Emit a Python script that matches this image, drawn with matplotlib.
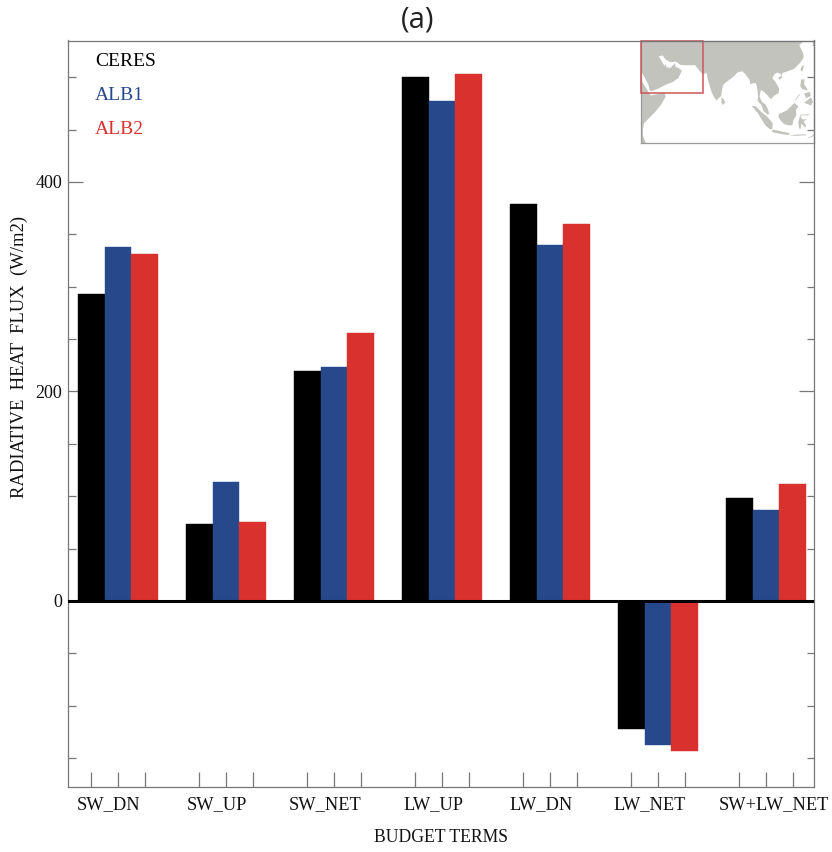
import numpy as np
import matplotlib
matplotlib.use("Agg")
import matplotlib.pyplot as plt
from matplotlib.patches import Polygon, Rectangle

# Values (W/m2)
terms = ["SW_DN", "SW_UP", "SW_NET", "LW_UP", "LW_DN", "LW_NET", "SW+LW_NET"]
ceres = [292.6, 73, 219.6, 500, 378.5, -122, 98]
alb1 = [337.5, 113.6, 223.4, 477, 340, -137.5, 87]
alb2 = [331, 75.4, 255.4, 503, 359.4, -143, 111.7]

series_names = ["CERES", "ALB1", "ALB2"]
colors = ["#000000", "#27498C", "#D9322E"]
grey = "#777777"

# Rough coastlines for the locator map (lon, lat)
asia = [(39, 37), (39, 22.5), (41, 19), (42.7, 16), (43.5, 12.8), (45, 12.8), (48, 14), (52, 16),
        (55, 17), (58, 19), (59.8, 22.5), (58.5, 23.7), (56.5, 24.5), (56.3, 26.2), (54, 24),
        (52, 24.2), (51.5, 25.8), (51, 24.8), (50, 26.5), (48, 29.5), (50, 30), (51.5, 28),
        (54, 26.7), (56.8, 27), (59, 25.4), (62, 25.2), (66.5, 25.3), (67.5, 24), (69, 22.3),
        (70.5, 20.8), (72.5, 21.5), (72.8, 19), (74, 15), (75, 12), (76.3, 9.5), (77.5, 8),
        (78.2, 9), (79.8, 10.3), (80.2, 13.5), (81, 16), (83, 17.5), (86.5, 20), (88, 21.7),
        (90.5, 22.3), (92, 21), (94.3, 18), (94.5, 16), (96, 16.5), (97.5, 16.5), (98.3, 13),
        (98.5, 10), (98.3, 8), (100.3, 5.8), (101.3, 3), (103.4, 1.3), (104.2, 1.5), (103.5, 4),
        (102.3, 6.2), (100.5, 7.5), (99.3, 10), (100, 13.3), (101, 12.7), (103, 11), (105, 8.7),
        (106.8, 10.5), (109, 11.7), (109.3, 14), (107.5, 17), (105.8, 19), (107, 21), (108.5, 21.7),
        (110, 21), (110.5, 20.3), (111, 21.5), (113.5, 22.3), (117, 23.5), (120, 26.5), (121.8, 29),
        (121.5, 31), (120.5, 33), (119.5, 35), (122, 37)]
africa = [(39, 18), (41, 15), (43, 12), (44, 10.5), (51, 12), (51.5, 10), (49.5, 6.5), (46.6, 3), (43, -0.5),
          (40.5, -3), (40, -6), (40, -9), (41.5, -12.5), (39, -12.5)]
korea = [(126.5, 37), (126.3, 34.5), (127, 34.5), (127, 37)]
sri_lanka = [(80, 9.7), (81.3, 8.5), (81.8, 7), (80.6, 6), (79.9, 7)]
sumatra = [(95.3, 5.6), (97.5, 5.2), (100.5, 2.3), (103.5, 0), (106, -3), (105.8, -5.8), (104.5, -5.8),
           (102.3, -4), (100.3, -1), (98.7, 1.7), (97, 3.5)]
java = [(105.2, -6.8), (106.5, -6), (110, -6.8), (114.5, -7.7), (114.4, -8.7), (110, -8.1), (106.5, -7.4)]
sundas = [(115, -8.7), (119, -8.4), (123, -8.3), (122.8, -8.8), (118, -9), (115, -8.9)]
timor = [(123.5, -10.3), (127, -8.4), (127, -9), (124, -10.3)]
borneo = [(109, 1.5), (111.3, 2.5), (113, 3.2), (115, 5), (117, 7), (119, 5.2), (117.8, 3.5), (118, 1),
          (116.5, -1.5), (116, -3.8), (114.5, -4), (111.7, -3.3), (110, -1.5), (109, 0)]
sulawesi = [(119.5, -5.5), (120.4, -5.5), (120.5, -3), (122.5, -5), (123, -4), (121.7, -2), (123.5, -1),
            (121, -1), (120, 0.8), (124, 1), (125, 1.5), (120, 1.2), (119, -2.5)]
luzon = [(120.5, 18.3), (122.2, 18.4), (122, 16), (124, 13), (121, 13.7), (120, 15)]
visayas = [(122, 11.5), (125, 12.3), (125.3, 10.3), (123, 9.3)]
mindanao = [(122, 7), (124, 8.5), (125.5, 9.7), (126.5, 7.5), (125.5, 5.7), (124, 6.3)]
palawan = [(117.2, 8.3), (119.5, 11.3), (119.7, 10.8), (117.6, 8.2)]
taiwan = [(121, 25), (122, 25), (120.9, 22), (120.1, 23.2)]
hainan = [(108.7, 19.2), (110.5, 20.1), (111, 19.6), (109.6, 18.2)]
land = [asia, africa, korea, sri_lanka, sumatra, java, sundas, timor, borneo, sulawesi,
        luzon, visayas, mindanao, palawan, taiwan, hainan]

W, H = 832, 852
fig = plt.figure(figsize=(W / 100, H / 100), dpi=100)
plt.rcParams["font.family"] = ["Liberation Serif", "DejaVu Serif"]

# axes box in pixels
ax = fig.add_axes([67.5 / W, 1 - 787 / H, (814 - 67.5) / W, (787 - 40.5) / H])
ax.set_zorder(2)
ax.patch.set_alpha(0)

x = np.arange(len(terms))
width = 0.246
for k, (vals, c) in enumerate(zip([ceres, alb1, alb2], colors)):
    ax.bar(x + (k - 1) * width, vals, width, color=c, edgecolor=c, linewidth=0.3, zorder=2)
ax.axhline(0, color="black", lw=2.2, zorder=3)

ax.set_xlim(-0.468, 6.444)
ax.set_ylim(-177.6, 535)

xticks = np.sort(np.concatenate([x - width, x, x + width]))
ax.set_xticks(xticks)
ax.set_xticklabels([])
ax.set_yticks([0, 200, 400])
ax.set_yticks(np.arange(-150, 501, 50), minor=True)
ax.tick_params(axis="y", which="major", direction="in", length=10.8, width=0.9, color=grey,
               left=True, right=True, labelsize=13, pad=3.6, labelcolor="#111111")
ax.tick_params(axis="y", which="minor", direction="in", length=5.4, width=0.9, color=grey,
               left=True, right=True)
ax.tick_params(axis="x", which="major", direction="in", length=10.8, width=0.9, color=grey, top=False)
for s in ax.spines.values():
    s.set_color(grey)
    s.set_linewidth(0.9)

# the group labels are not centred under their ticks in the original
label_shift_px = [-9, -9, -9, -9, -9, -8, 8]
for xi, t, dx in zip(x, terms, label_shift_px):
    ax.annotate(t, xy=(xi, 0), xycoords=ax.get_xaxis_transform(), xytext=(dx * 0.72, -15.8),
                textcoords="offset points", ha="center", va="baseline", fontsize=13.2, color="#111111")

fig.text(19 / W, 1 - 357 / H, "RADIATIVE  HEAT  FLUX  (W/m2)", fontsize=13.4, rotation=90,
         ha="center", va="center", color="#111111")
fig.text(441 / W, 1 - 837 / H, "BUDGET TERMS", fontsize=12.7, ha="center", va="center", color="#111111")
fig.text(418 / W, 1 - 20 / H, "(a)", fontsize=21, ha="center", va="center",
         family=["Open Sans", "DejaVu Sans"], color="#222222")

for name, c, ypix in zip(series_names, colors, [62, 96, 130]):
    fig.text(95 / W, 1 - ypix / H, name, fontsize=14, color=c, ha="left", va="center")

# locator map, top right corner
inset = fig.add_axes([641 / W, 1 - 143 / H, (814 - 641) / W, (143 - 41) / H])
inset.set_zorder(1)
inset.set_xlim(39, 127)
inset.set_ylim(-12.5, 37)
inset.set_xticks([])
inset.set_yticks([])
for poly in land:
    inset.add_patch(Polygon(poly, closed=True, facecolor="#C2C3BD", edgecolor="none"))
inset.add_patch(Rectangle((39, 11.9), 31.5, 25.1, fill=False, edgecolor="#D0545A", lw=1.1, clip_on=False, zorder=3))
for s in inset.spines.values():
    s.set_color("#999999")
    s.set_linewidth(0.9)

fig.savefig("out.png", dpi=100)
